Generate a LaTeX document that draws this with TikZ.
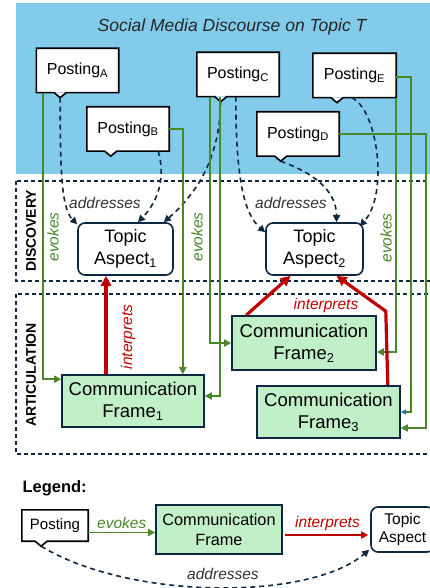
\documentclass[tikz,border=0pt]{standalone}
\usepackage{fontspec}
\setmainfont{Liberation Sans}
\usetikzlibrary{arrows.meta,calc}
\definecolor{skyback}{RGB}{131,203,235}
\definecolor{navy}{RGB}{14,40,65}
\definecolor{evgreen}{RGB}{74,135,40}
\definecolor{framegreen}{RGB}{193,240,200}
\definecolor{intred}{RGB}{192,0,0}
\definecolor{tipblue}{RGB}{46,117,182}
\tikzset{
    posting/.style={fill=white, inner sep=0pt, minimum width=82pt, minimum height=44pt, font=\fontsize{16}{19}\selectfont},
    postline/.style={draw=black, line width=1.6pt},
    topic/.style={draw=navy, line width=1.6pt, rounded corners=7pt, fill=white, align=center, inner sep=0pt,
        minimum width=95pt, minimum height=52pt, font=\fontsize{18}{22}\selectfont},
    commframe/.style={draw=navy, line width=1.6pt, fill=framegreen, align=center, inner sep=0pt,
        minimum width=142pt, minimum height=52pt, font=\fontsize{18.5}{22}\selectfont},
    evoke/.style={->, draw=evgreen, line width=2pt, >={Triangle[length=7pt,width=7pt]}},
    interp/.style={->, draw=intred, line width=3.2pt, >={Triangle[length=10pt,width=10pt]}},
    address/.style={->, draw=navy, line width=1.6pt, dash pattern=on 5pt off 4pt, >={Triangle[length=7pt,width=7pt]}},
    area/.style={draw=navy, line width=1.3pt, dash pattern=on 4pt off 3pt},
    lbl/.style={font=\fontsize{15.5}{18}\selectfont\itshape},
    stage/.style={rotate=90, font=\fontsize{14}{16}\selectfont\bfseries}
}
% outline of a posting with its small tail
\newcommand{\postingoutline}[1]{%
  \coordinate (#1-tip) at ($(#1.south west)!0.29!(#1.south east)+(0,5)$);
  \fill[white] ($(#1-tip)+(-6,-5)$) -- (#1-tip) -- ($(#1-tip)+(6,-5)$) -- cycle;
  \draw[postline] (#1.south east) -- (#1.north east) -- (#1.north west) -- (#1.south west)
    -- ($(#1-tip)+(-6,-5)$) -- (#1-tip) -- ($(#1-tip)+(6,-5)$) -- cycle;
}

\begin{document}
\begin{tikzpicture}[x=1pt, y=-1pt]
\useasboundingbox (0,0) rectangle (429,588);

% discourse and stages
\fill[skyback] (16,3) rectangle (432,174);
\node[font=\fontsize{17.5}{20}\selectfont\itshape, text=black!85] (title) at (232,27) {Social Media Discourse on Topic T};
\draw[area] (16,181) rectangle (440,281);
\draw[area] (16,294) rectangle (440,454);
\node[stage] (disc) at (31,231) {DISCOVERY};
\node[stage] (artic) at (31,375) {ARTICULATION};

% postings
\node[posting] (pA) at (77.5,70.5) {Posting\textsubscript{A}};
\postingoutline{pA}
\node[posting] (pB) at (128,129) {Posting\textsubscript{B}};
\postingoutline{pB}
\node[posting] (pC) at (238,74.5) {Posting\textsubscript{C}};
\postingoutline{pC}
\node[posting] (pD) at (298,134) {Posting\textsubscript{D}};
\postingoutline{pD}
\node[posting, minimum width=83pt] (pE) at (354.5,75.5) {Posting\textsubscript{E}};
\postingoutline{pE}

% topic aspects and frames
\node[topic] (ta1) at (125.5,249) {Topic\\Aspect\textsubscript{1}};
\node[topic, minimum width=97pt] (ta2) at (314.5,249) {Topic\\Aspect\textsubscript{2}};
\node[commframe] (cf1) at (133,401) {Communication\\Frame\textsubscript{1}};
\node[commframe, minimum width=144pt, minimum height=54pt] (cf2) at (304,343) {Communication\\Frame\textsubscript{2}};
\node[commframe, minimum width=143pt] (cf3) at (328.5,412) {Communication\\Frame\textsubscript{3}};

% addresses
\draw[address] (pA-tip) .. controls +(0,72) and +(-16,-16) .. ([yshift=-2pt]ta1.north west);
\draw[address] ([xshift=-11pt]pB.south east) .. controls +(7,24) and +(22,-23) .. ([xshift=12.5pt]ta1.north);
\draw[address] (pC-tip) .. controls +(-1,58) and +(32,-28) .. ([xshift=-10pt]ta1.north east);
\draw[address] ([xshift=39pt]pC.south west) .. controls +(0,83) and +(-21,-18) .. ([yshift=-10pt]ta2.north west);
\draw[address] (pD-tip) .. controls +(39,14) and +(0,-28) .. ([xshift=22pt]ta2.north);
\draw[address] ([xshift=39pt]pE.south west) .. controls +(26,12) and +(29,-32) .. ([xshift=-4pt,yshift=-4pt]ta2.north east);
\node[lbl, text=black!80] (adOne) at (105,203) {addresses};
\node[lbl, text=black!80] (adTwo) at (291,203) {addresses};

% evokes
\draw[evoke] ([xshift=7pt]pA.south west) |- ([yshift=-5pt]cf1.north west);
\draw[evoke] (pB.east) -| ([xshift=-22pt]cf1.north east);
\draw[evoke] ([xshift=13pt]pC.south west) |- (cf2.west);
\draw[evoke] ([xshift=23pt]pC.south west) |- ([yshift=5pt]cf1.east);
\draw[evoke] (pE.south east) |- ([yshift=-9pt]cf2.east);
\draw[evoke, -{Triangle[length=5pt,width=5pt,color=tipblue]}] ([yshift=-1.5pt]pE.east) -- ++(15,0) |- (cf3.east);
\draw[evoke] (pD.east) -- ++(87,0) |- ([yshift=-16pt]cf3.east);
\node[lbl, text=evgreen, rotate=90] (evA) at (53,237) {evokes};
\node[lbl, text=evgreen, rotate=90] (evBC) at (197,237) {evokes};
\node[lbl, text=evgreen, rotate=90] (evE) at (386,238) {evokes};

% interprets
\draw[interp] ([xshift=-27pt]cf1.north) -- ([xshift=-27pt]cf1.north |- ta1.south);
\draw[interp] ([xshift=15pt]cf2.north west) -- ([xshift=-24pt]ta2.south);
\draw[interp] ([xshift=-13pt]cf3.north east) -- ++(-2,-74) -- ([xshift=22pt]ta2.south);
\node[lbl, text=intred, rotate=90] (inOne) at (128,337) {interprets};
\node[lbl, text=intred] (inTwo) at (326,305) {interprets};

% legend
\node[font=\fontsize{16.5}{19}\selectfont\bfseries, anchor=base west] (legend) at (19,492) {Legend:};
\node[posting, minimum width=66pt, minimum height=31pt, font=\fontsize{15}{18}\selectfont] (lgPost) at (55,525.5) {Posting};
\postingoutline{lgPost}
\node[commframe, minimum width=126pt, minimum height=49pt, font=\fontsize{16.3}{20}\selectfont] (lgFrame) at (219,529.5) {Communication\\Frame};
\node[topic, minimum width=63pt, minimum height=45pt, font=\fontsize{15.5}{18}\selectfont] (lgTopic) at (402.5,529.5) {Topic\\Aspect};
\draw[evoke, line width=1.5pt] ([yshift=-7pt]lgPost.east) -- ([yshift=-7pt]lgPost.east -| lgFrame.west)
    node[midway, above, lbl, text=evgreen] (lgEvokes) {evokes};
\draw[interp, line width=1.6pt, shorten >=2pt, >={Triangle[length=7pt,width=7pt]}] ([xshift=2pt,yshift=-5.5pt]lgFrame.east) -- ([yshift=-5.5pt]lgFrame.east -| lgTopic.west)
    node[midway, above, lbl, text=intred] (lgInterp) {interprets};
\draw[address] (lgPost-tip) .. controls +(89,54) and +(-60,51) .. ([xshift=-1pt,yshift=3pt]lgTopic.south west);
\node[lbl, text=black!80] (lgAddr) at (223,574) {addresses};

\end{tikzpicture}
\end{document}
